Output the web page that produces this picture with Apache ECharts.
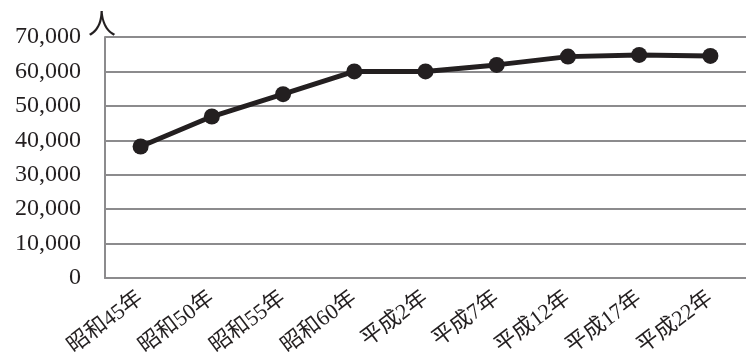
<!DOCTYPE html>
<html>
<head>
<meta charset="utf-8">
<script src="https://cdn.jsdelivr.net/npm/echarts@6/dist/echarts.min.js"></script>
<style>
  html, body { margin: 0; padding: 0; background: #fff; }
  #chart { width: 746px; height: 364px; }
</style>
</head>
<body>
<div id="chart"></div>
<script>
// Population by census year
const categories = ['昭和45年', '昭和50年', '昭和55年', '昭和60年', '平成2年', '平成7年', '平成12年', '平成17年', '平成22年'];
const population = [38200, 46900, 53400, 60000, 60000, 61900, 64300, 64800, 64500];
const yTicks = { min: 0, max: 70000, interval: 10000 };
const unitLabel = '人';

const serif = 'Liberation Serif, Noto Sans CJK JP, serif';
const gridGray = '#8c8b8d';
const ink = '#231f20';

const chart = echarts.init(document.getElementById('chart'), null, { renderer: 'canvas' });
chart.setOption({
  animation: false,
  backgroundColor: '#ffffff',
  grid: { left: 105, top: 37, width: 643, bottom: 86, containLabel: false },
  xAxis: {
    type: 'category',
    data: categories,
    boundaryGap: true,
    axisLine: { show: true, lineStyle: { color: gridGray, width: 2 } },
    axisTick: { show: false },
    axisLabel: {
      rotate: 37,
      margin: 18,
      interval: 0,
      color: ink,
      fontFamily: serif,
      fontSize: 22
    }
  },
  yAxis: {
    type: 'value',
    min: yTicks.min,
    max: yTicks.max,
    interval: yTicks.interval,
    name: unitLabel,
    nameLocation: 'end',
    nameGap: 0,
    nameTextStyle: { color: ink, fontFamily: serif, fontSize: 28, align: 'left', verticalAlign: 'bottom', padding: [0, 0, -4, -17] },
    axisLine: { show: true, lineStyle: { color: gridGray, width: 2 } },
    axisTick: { show: false },
    splitLine: { show: true, lineStyle: { color: gridGray, width: 2 } },
    axisLabel: {
      margin: 24,
      color: ink,
      fontFamily: serif,
      fontSize: 24,
      formatter: v => v.toLocaleString('en-US')
    }
  },
  series: [{
    type: 'line',
    data: population,
    symbol: 'circle',
    symbolSize: 16,
    lineStyle: { color: ink, width: 5 },
    itemStyle: { color: ink },
    z: 3
  }]
});
</script>
</body>
</html>
